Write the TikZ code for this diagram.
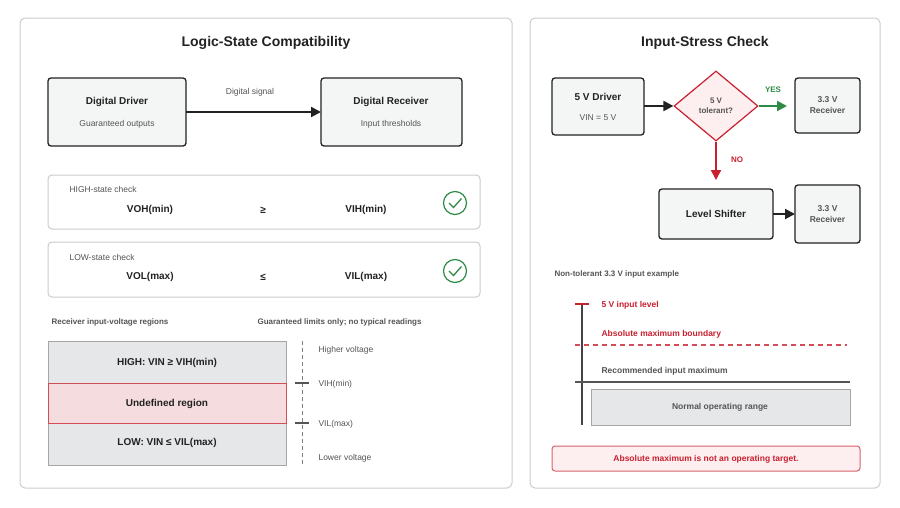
\documentclass[tikz,border=0pt]{standalone}
\usepackage{fontspec}
\setmainfont{Liberation Sans}
\usetikzlibrary{arrows.meta,shapes.geometric}
\definecolor{ink}{HTML}{222222}
\definecolor{mid}{HTML}{555555}
\definecolor{pan}{HTML}{CCCCCC}
\definecolor{boxf}{HTML}{F4F5F5}
\definecolor{grayf}{HTML}{E6E7E9}
\definecolor{redc}{HTML}{C8202F}
\definecolor{pinkf}{HTML}{F5DCDE}
\definecolor{pinkl}{HTML}{FDEEEF}
\definecolor{grn}{HTML}{2E8B47}
\tikzset{
 panel/.style={draw=pan,line width=1pt,fill=white,rounded corners=5pt},
 blk/.style={draw=ink,line width=1.3pt,fill=boxf,rounded corners=3pt},
 chk/.style={draw=pan,line width=1pt,fill=white,rounded corners=4pt},
 reg/.style={draw=gray!70,line width=1pt,fill=grayf},
 arr/.style={line width=2pt,draw=ink,-{Triangle[length=10pt,width=10pt]}},
 ttl/.style={font=\bfseries\fontsize{14}{16}\selectfont,text=ink},
 bt/.style={font=\bfseries\fontsize{10}{12}\selectfont,text=ink},
 st/.style={font=\fontsize{8.5}{10}\selectfont,text=mid},
 sb/.style={font=\bfseries\fontsize{8}{10}\selectfont,text=mid},
}
\begin{document}
\begin{tikzpicture}[x=1pt,y=-1pt]
\useasboundingbox (0,0) rectangle (900,507);
% left panel
\draw[panel] (20,18) rectangle (512,488);
\node[ttl] (t1) at (266,43) {Logic-State Compatibility};
\draw[blk] (48,78) rectangle (186,146);
\node[bt] (dd) at (117,102) {Digital Driver};
\node[st] (ddo) at (117,124) {Guaranteed outputs};
\draw[blk] (321,78) rectangle (462,146);
\node[bt] (dr) at (391,102) {Digital Receiver};
\node[st] (dri) at (391,124) {Input thresholds};
\coordinate (a1) at (186,112); \coordinate (a2) at (321,112);
\draw[arr] (a1) -- (a2);
\node[st] (ds) at (250,92) {Digital signal};
% checks
\draw[chk] (48,175) rectangle (480,229);
\node[st,anchor=west] (hc) at (66,189) {HIGH-state check};
\node[bt] (voh) at (150,210) {VOH(min)};
\node[bt] (ge) at (263,210) {≥};
\node[bt] (vih) at (366,210) {VIH(min)};
\node[circle,draw=grn,line width=1.2pt,minimum size=23pt,inner sep=0] (c1) at (455,203) {};
\draw[grn,line width=1.3pt] (449,203) -- (453.5,207.5) -- (461.5,198.5);
\draw[chk] (48,242) rectangle (480,297);
\node[st,anchor=west] (lc) at (66,257) {LOW-state check};
\node[bt] (vol) at (150,277) {VOL(max)};
\node[bt] (le) at (263,277) {≤};
\node[bt] (vil) at (366,277) {VIL(max)};
\node[circle,draw=grn,line width=1.2pt,minimum size=23pt,inner sep=0] (c2) at (455,271) {};
\draw[grn,line width=1.3pt] (449,271) -- (453.5,275.5) -- (461.5,266.5);
% regions
\node[sb,anchor=west] (rl) at (48,322) {Receiver input-voltage regions};
\node[sb,anchor=west] (gl) at (254,322) {Guaranteed limits only; no typical readings};
\draw[reg] (48,341) rectangle (286,383);
\draw[reg] (48,423) rectangle (286,465);
\draw[draw=redc!80,line width=1pt,fill=pinkf] (48,383) rectangle (286,423);
\node[bt] (hr) at (167,363) {HIGH: VIN ≥ VIH(min)};
\node[bt] (ur) at (167,404) {Undefined region};
\node[bt] (lr) at (167,443) {LOW: VIN ≤ VIL(max)};
\draw[gray,line width=1pt,dash pattern=on 4pt off 3pt] (302,341) -- (302,465);
\draw[mid,line width=1.2pt] (295,383) -- (309,383);
\draw[mid,line width=1.2pt] (295,423) -- (309,423);
\node[st,anchor=west] (hv) at (315,350) {Higher voltage};
\node[st,anchor=west] (vihm) at (315,384) {VIH(min)};
\node[st,anchor=west] (vilm) at (315,424) {VIL(max)};
\node[st,anchor=west] (lv) at (315,458) {Lower voltage};
% right panel
\draw[panel] (530,18) rectangle (880,488);
\node[ttl] (t2) at (705,43) {Input-Stress Check};
\draw[blk] (552,78) rectangle (644,135);
\node[bt] (fd) at (598,97) {5 V Driver};
\node[st] (vin) at (598,118) {VIN = 5 V};
\node[diamond,draw=redc,line width=1.2pt,fill=pinkl,minimum width=84pt,minimum height=70pt,inner sep=0] (dm) at (716,106) {};
\node[font=\bfseries\fontsize{8}{10}\selectfont,text=mid,align=center] (dmt) at (716,106) {5 V\\tolerant?};
\draw[blk] (795,78) rectangle (860,133);
\node[font=\bfseries\fontsize{8.5}{11}\selectfont,text=mid,align=center] (r1) at (827.5,105) {3.3 V\\Receiver};
\draw[blk] (659,189) rectangle (773,239);
\node[bt] (ls) at (716,214) {Level Shifter};
\draw[blk] (795,185) rectangle (860,243);
\node[font=\bfseries\fontsize{8.5}{11}\selectfont,text=mid,align=center] (r2) at (827.5,214) {3.3 V\\Receiver};
\coordinate (b1) at (644,106);
\draw[arr] (b1) -- (dm.west);
\coordinate (y2) at (787,106);
\draw[line width=2pt,draw=grn,-{Triangle[length=10pt,width=10pt]}] (dm.east) -- (y2);
\node[font=\bfseries\fontsize{8}{10}\selectfont,text=grn] (yes) at (773,90) {YES};
\coordinate (n2) at (716,180);
\draw[line width=2pt,draw=redc,-{Triangle[length=10pt,width=10pt]}] (dm.south) -- (n2);
\node[font=\bfseries\fontsize{8}{10}\selectfont,text=redc] (no) at (737,160) {NO};
\coordinate (c3) at (773,214); \coordinate (c4) at (795,214);
\draw[arr] (c3) -- (c4);
\node[sb,anchor=west] (nt) at (551,274) {Non-tolerant 3.3 V input example};
\draw[ink!85,line width=1.5pt] (582,303) -- (582,425);
\draw[redc,line width=2pt] (575,304) -- (589,304);
\node[font=\bfseries\fontsize{8.5}{10}\selectfont,text=redc,anchor=west] (fv) at (598,305) {5 V input level};
\node[font=\bfseries\fontsize{8.5}{10}\selectfont,text=redc,anchor=west] (am) at (598,334) {Absolute maximum boundary};
\draw[redc!80,line width=1.2pt,dash pattern=on 5pt off 4pt] (575,345) -- (847,345);
\node[font=\bfseries\fontsize{8.5}{10}\selectfont,text=mid,anchor=west] (rm) at (598,371) {Recommended input maximum};
\draw[mid,line width=1.2pt] (575,382) -- (850,382);
\draw[reg] (591,389) rectangle (850,425);
\node[font=\bfseries\fontsize{8.5}{10}\selectfont,text=mid] (no2) at (720,407) {Normal operating range};
\draw[draw=redc!70,line width=1pt,fill=pinkl,rounded corners=3pt] (552,446) rectangle (860,471);
\node[font=\bfseries\fontsize{8.5}{10}\selectfont,text=redc] (al) at (706,459) {Absolute maximum is not an operating target.};
\end{tikzpicture}
\end{document}
